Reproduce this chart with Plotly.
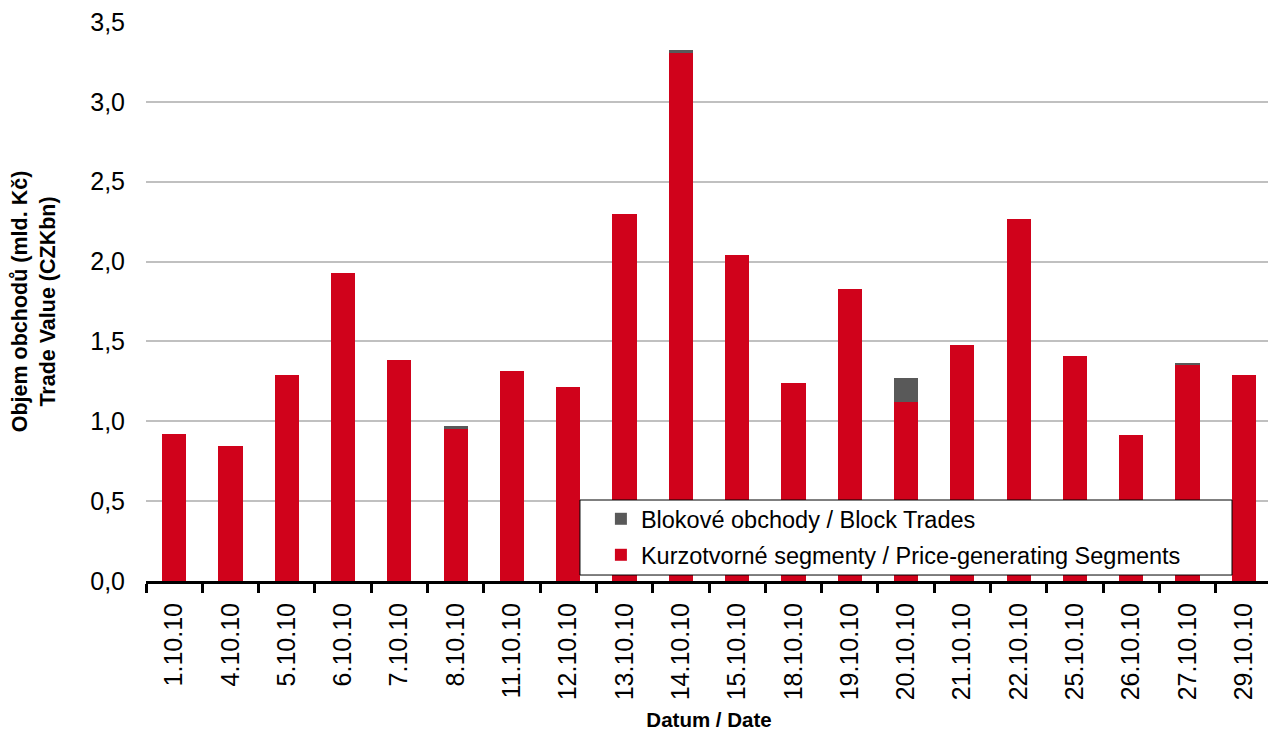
import plotly.graph_objects as go

dates = ["1.10.10", "4.10.10", "5.10.10", "6.10.10", "7.10.10", "8.10.10", "11.10.10",
         "12.10.10", "13.10.10", "14.10.10", "15.10.10", "18.10.10", "19.10.10", "20.10.10",
         "21.10.10", "22.10.10", "25.10.10", "26.10.10", "27.10.10", "29.10.10"]
price_generating = [0.92, 0.845, 1.287, 1.927, 1.386, 0.951, 1.318, 1.212, 2.30, 3.306,
                    2.04, 1.237, 1.827, 1.119, 1.479, 2.268, 1.411, 0.914, 1.355, 1.287]
block_trades = [0.0, 0.0, 0.0, 0.0, 0.0, 0.018, 0.0, 0.0, 0.0, 0.019,
                0.0, 0.0, 0.0, 0.155, 0.0, 0.0, 0.0, 0.0, 0.006, 0.0]
y_ticks = [0, 0.5, 1.0, 1.5, 2.0, 2.5, 3.0, 3.5]
y_tick_labels = ["0,0", "0,5", "1,0", "1,5", "2,0", "2,5", "3,0", "3,5"]

FONT = "Liberation Sans, Arial, sans-serif"
LEG_FONT = 23.5

fig = go.Figure()
fig.add_trace(go.Bar(x=dates, y=price_generating, name="Kurzotvorné segmenty / Price-generating Segments",
                     marker=dict(color="#D0021B", line=dict(width=0)), legend="legend2",
                     showlegend=True))
fig.add_trace(go.Bar(x=dates, y=block_trades, name="Blokové obchody / Block Trades",
                     marker=dict(color="#595959", line=dict(width=0)), legend="legend",
                     showlegend=True))

# legend frame
fig.add_shape(type="rect", xref="paper", yref="paper",
              x0=0.3854, x1=0.9645, y0=0.0107, y1=0.1449,
              fillcolor="white", line=dict(color="black", width=1), layer="above")

fig.update_layout(
    barmode="stack",
    bargap=0.57,
    width=1276, height=737,
    margin=dict(l=138, r=12, t=14, b=164, autoexpand=False),
    paper_bgcolor="white", plot_bgcolor="white",
    font=dict(family=FONT, size=25, color="black"),
    showlegend=True,
    legend=dict(
        x=0.404, y=0.1109, xanchor="left", yanchor="middle",
        bgcolor="rgba(0,0,0,0)", borderwidth=0, visible=True,
        font=dict(size=LEG_FONT, family=FONT), itemwidth=30,
    ),
    legend2=dict(
        x=0.404, y=0.0465, xanchor="left", yanchor="middle",
        bgcolor="rgba(0,0,0,0)", borderwidth=0, visible=True,
        font=dict(size=LEG_FONT, family=FONT), itemwidth=30,
    ),
    xaxis=dict(
        type="category", tickangle=-90, tickson="boundaries", automargin=False,
        ticks="outside", ticklen=9, tickwidth=3, tickcolor="black",
        showline=True, linecolor="black", linewidth=3,
        tickfont=dict(size=25, family=FONT), ticklabelstandoff=9,
        title=dict(text="<b>Datum / Date</b>", font=dict(size=20.5, family=FONT), standoff=14),
    ),
    yaxis=dict(
        range=[0, 3.5], tickvals=y_ticks, ticktext=y_tick_labels, automargin=False,
        showgrid=True, gridcolor="#C0C0C0", gridwidth=2,
        zeroline=False, showline=False,
        ticks="", ticklabelstandoff=20, ticklabeloverflow="allow",
        tickfont=dict(size=25, family=FONT),
        title=dict(text="<b>Objem obchodů (mld. Kč)<br>Trade Value (CZKbn)</b>",
                   font=dict(size=21.5, family=FONT), standoff=34),
    ),
)

fig.write_html("out.html")
